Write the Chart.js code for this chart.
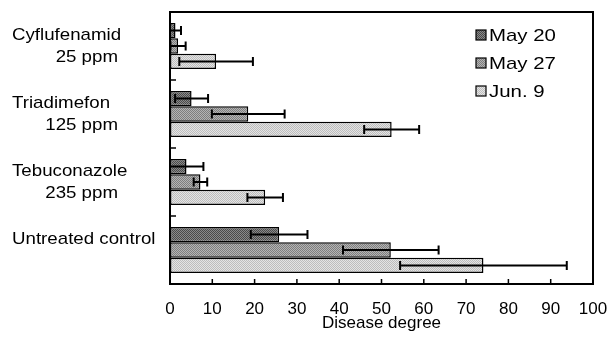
<!DOCTYPE html>
<html>
<head>
<meta charset="utf-8">
<script src="https://cdn.jsdelivr.net/npm/chart.js@4/dist/chart.umd.min.js"></script>
<style>
  html, body { margin: 0; padding: 0; background: #fff; }
  #grafico { display: block; }
</style>
</head>
<body>
<canvas id="grafico" width="610" height="342"></canvas>
<script>
// categorias (cada una en dos lineas como en la figura)
const categorias = [
  ["Cyflufenamid", "25 ppm"],
  ["Triadimefon", "125 ppm"],
  ["Tebuconazole", "235 ppm"],
  ["Untreated control"]
];
const series = ["May 20", "May 27", "Jun. 9"];

const may20 = [1.3, 5.1, 3.9, 25.8];
const may20Err = [1.3, 3.9, 4.0, 6.7];
const may27 = [1.9, 18.5, 7.2, 52.2];
const may27Err = [1.8, 8.6, 1.6, 11.3];
const jun9 = [10.9, 52.4, 22.5, 74.1];
const jun9Err = [8.7, 6.5, 4.2, 19.7];

const ticksX = [0, 10, 20, 30, 40, 50, 60, 70, 80, 90, 100];
const tituloX = "Disease degree";

const FUENTE = '"Liberation Sans", Arial, sans-serif';

// trama de puntos tipo impresion
function trama(c1, c2) {
  const p = document.createElement("canvas");
  p.width = 2; p.height = 2;
  const g = p.getContext("2d");
  g.fillStyle = c1; g.fillRect(0, 0, 2, 2);
  g.fillStyle = c2; g.fillRect(0, 0, 1, 1); g.fillRect(1, 1, 1, 1);
  return g.createPattern(p, "repeat");
}

const rellenos = [
  trama("#8a8a8a", "#4a4a4a"),
  trama("#b4b4b4", "#7e7e7e"),
  trama("#e4e4e4", "#bdbdbd")
];
const errores = [may20Err, may27Err, jun9Err];

function textoEstirado(ctx, txt, x, y, align, sx) {
  ctx.save();
  ctx.translate(x, y);
  ctx.scale(sx, 1);
  ctx.textAlign = align;
  ctx.fillText(txt, 0, 0);
  ctx.restore();
}

const pluginExtras = {
  id: "extras",
  afterDatasetsDraw(chart) {
    const ctx = chart.ctx;
    const area = chart.chartArea;
    const xs = chart.scales.x;
    const ys = chart.scales.y;

    // barras de error
    ctx.save();
    ctx.strokeStyle = "#000";
    ctx.lineWidth = 2;
    chart.data.datasets.forEach((ds, i) => {
      const meta = chart.getDatasetMeta(i);
      meta.data.forEach((bar, j) => {
        const v = ds.data[j];
        const e = errores[i][j];
        const x1 = xs.getPixelForValue(Math.max(0, v - e));
        const x2 = xs.getPixelForValue(v + e);
        const y = bar.y;
        ctx.beginPath();
        ctx.moveTo(x1, y); ctx.lineTo(x2, y);
        ctx.moveTo(x1, y - 4.5); ctx.lineTo(x1, y + 4.5);
        ctx.moveTo(x2, y - 4.5); ctx.lineTo(x2, y + 4.5);
        ctx.stroke();
      });
    });

    // marco
    ctx.lineWidth = 2;
    ctx.strokeRect(area.left, area.top, area.right - area.left, area.bottom - area.top);

    // marcas hacia dentro
    ctx.lineWidth = 1.5;
    ctx.beginPath();
    ticksX.slice(1, -1).forEach(t => {
      const x = xs.getPixelForValue(t);
      ctx.moveTo(x, area.bottom); ctx.lineTo(x, area.bottom - 5);
    });
    for (let i = 0; i < categorias.length - 1; i++) {
      const y = (ys.getPixelForValue(i) + ys.getPixelForValue(i + 1)) / 2;
      ctx.moveTo(area.left, y); ctx.lineTo(area.left + 6, y);
    }
    ctx.stroke();

    // etiquetas de categoria
    ctx.fillStyle = "#000";
    ctx.font = "17px " + FUENTE;
    ctx.textBaseline = "alphabetic";
    categorias.forEach((lineas, i) => {
      const yc = ys.getPixelForValue(i);
      textoEstirado(ctx, lineas[0], 12, yc - 6, "left", 1.1);
      if (lineas[1]) textoEstirado(ctx, lineas[1], 118, yc + 16, "right", 1.1);
    });

    // leyenda
    series.forEach((s, i) => {
      const yc = 35 + i * 28;
      ctx.fillStyle = rellenos[i];
      ctx.fillRect(476, yc - 5, 10, 10);
      ctx.strokeStyle = "#000";
      ctx.lineWidth = 1.2;
      ctx.strokeRect(476, yc - 5, 10, 10);
      ctx.fillStyle = "#000";
      textoEstirado(ctx, s, 489, yc + 6, "left", 1.2);
    });
    ctx.restore();
  }
};

new Chart(document.getElementById("grafico"), {
  type: "bar",
  data: {
    labels: categorias.map(c => c.join(" ")),
    datasets: [may20, may27, jun9].map((d, i) => ({
      label: series[i],
      data: d,
      backgroundColor: rellenos[i],
      borderColor: "#000",
      borderWidth: 1.5,
      borderSkipped: false,
      categoryPercentage: 0.68,
      barPercentage: 1.0
    }))
  },
  options: {
    indexAxis: "y",
    responsive: false,
    animation: false,
    devicePixelRatio: 1,
    layout: { padding: { left: 170, right: 17, top: 12, bottom: 0 } },
    plugins: {
      legend: { display: false },
      tooltip: { enabled: false }
    },
    scales: {
      y: { display: false },
      x: {
        min: 0, max: 100,
        grid: { display: false, drawTicks: false },
        border: { display: false },
        afterFit(s) {
          s.height = 58;
          s.paddingLeft = 0;
          s.paddingRight = 0;
        },
        ticks: {
          stepSize: 10,
          padding: 15,
          color: "#000",
          font: { family: FUENTE, size: 17 },
          maxRotation: 0
        },
        title: {
          display: true,
          text: tituloX,
          color: "#000",
          font: { family: FUENTE, size: 17 },
          padding: { top: 0, bottom: 8 }
        }
      }
    }
  },
  plugins: [pluginExtras]
});
</script>
</body>
</html>
